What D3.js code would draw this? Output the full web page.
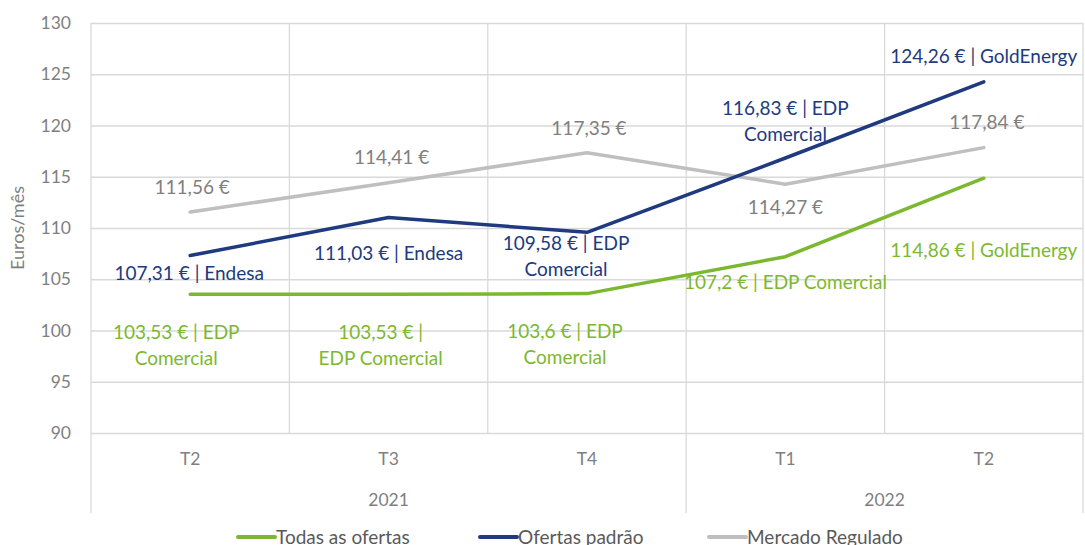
<!DOCTYPE html>
<html>
<head>
<meta charset="utf-8">
<script src="https://cdn.jsdelivr.net/npm/d3@7"></script>
<style>
	body { margin: 0; background: #fff; overflow: hidden; }
	svg { display: block; font-family: Lato, "Open Sans", sans-serif; }
</style>
</head>
<body>
<div id="graphic"></div>
<script>
// categories (quarter, year)
const quarters = ['T2', 'T3', 'T4', 'T1', 'T2'];
const years = ['2021', '2021', '2021', '2022', '2022'];
const yTicks = [90, 95, 100, 105, 110, 115, 120, 125, 130];

// series values (€/mês)
const todasOfertas = [103.53, 103.53, 103.6, 107.2, 114.86];
const ofertasPadrao = [107.31, 111.03, 109.58, 116.83, 124.26];
const mercadoRegulado = [111.56, 114.41, 117.35, 114.27, 117.84];

// supplier names shown in the labels
const todasFornecedor = ['EDP Comercial', 'EDP Comercial', 'EDP Comercial', 'EDP Comercial', 'GoldEnergy'];
const padraoFornecedor = ['Endesa', 'Endesa', 'EDP Comercial', 'EDP Comercial', 'GoldEnergy'];

const seriesNames = ['Todas as ofertas', 'Ofertas padrão', 'Mercado Regulado'];

// label placement (pixel offsets from the point, words on first line; 0 = no wrap)
const layout = {
	todas: [
		{ dx: -14, dy: 51, split: 4 }, { dx: -8, dy: 51, split: 3 }, { dx: -22, dy: 51, split: 4 },
		{ dx: 0, dy: 26, split: 0 }, { dx: 0, dy: 72, split: 0 }
	],
	padrao: [
		{ dx: -1, dy: 18, split: 0 }, { dx: 0, dy: 36, split: 0 }, { dx: -21, dy: 24, split: 4 },
		{ dx: 0, dy: -37, split: 4 }, { dx: 0, dy: -25, split: 0 }
	],
	regulado: [
		{ dx: 2, dy: -25, split: 0 }, { dx: 3, dy: -25, split: 0 }, { dx: 2, dy: -24, split: 0 },
		{ dx: 0, dy: 23, split: 0 }, { dx: 3, dy: -25, split: 0 }
	]
};

const colours = { todas: '#7CB82F', padrao: '#203A80', regulado: '#BFBFBF' };
const textColours = { todas: '#7CB82F', padrao: '#203A80', regulado: '#7F7F7F' };

const width = 1085, height = 545;
const margin = { top: 23, right: 2, bottom: 112, left: 91 };
const chartWidth = width - margin.left - margin.right;
const chartHeight = height - margin.top - margin.bottom;

const fmt = v => String(v).replace('.', ',');

const svg = d3.select('#graphic').append('svg')
	.attr('width', width)
	.attr('height', height);

const g = svg.append('g').attr('transform', `translate(${margin.left},${margin.top})`);

const x = d3.scaleBand()
	.domain(d3.range(quarters.length))
	.range([0, chartWidth])
	.paddingInner(0).paddingOuter(0);

const y = d3.scaleLinear()
	.domain([90, 130])
	.range([chartHeight, 0]);

const cx = i => x(i) + x.bandwidth() / 2;

// horizontal grid
g.append('g')
	.attr('class', 'grid')
	.call(d3.axisLeft(y).tickValues(yTicks).tickSize(-chartWidth).tickFormat(''))
	.call(s => s.select('.domain').remove())
	.selectAll('line').attr('stroke', '#D9D9D9').attr('stroke-width', 1.3);

// vertical grid on category boundaries
g.append('g')
	.selectAll('line')
	.data(d3.range(quarters.length + 1))
	.join('line')
	.attr('x1', i => i < quarters.length ? x(i) : chartWidth)
	.attr('x2', i => i < quarters.length ? x(i) : chartWidth)
	.attr('y1', 0)
	.attr('y2', chartHeight)
	.attr('stroke', '#D9D9D9')
	.attr('stroke-width', 1.3);

// y tick labels
g.append('g')
	.call(d3.axisLeft(y).tickValues(yTicks).tickSize(0).tickPadding(20))
	.call(s => s.select('.domain').remove())
	.selectAll('text')
	.attr('fill', '#7F7F7F')
	.style('font-size', '17.5px')
	.style('font-family', 'Lato, sans-serif');

// x axis: quarters
g.append('g')
	.attr('transform', `translate(0,${chartHeight})`)
	.selectAll('text')
	.data(quarters)
	.join('text')
	.attr('x', (d, i) => cx(i))
	.attr('y', 26)
	.attr('dy', '0.35em')
	.attr('text-anchor', 'middle')
	.attr('fill', '#7F7F7F')
	.style('font-size', '17.5px')
	.text(d => d);

// x axis: year groups
const yearGroups = Array.from(d3.group(quarters.map((q, i) => ({ i, year: years[i] })), d => d.year));
const axisG = g.append('g').attr('transform', `translate(0,${chartHeight})`);
axisG.selectAll('text.year')
	.data(yearGroups)
	.join('text')
	.attr('class', 'year')
	.attr('x', ([, v]) => (x(v[0].i) + x(v[v.length - 1].i) + x.bandwidth()) / 2)
	.attr('y', 67)
	.attr('dy', '0.35em')
	.attr('text-anchor', 'middle')
	.attr('fill', '#7F7F7F')
	.style('font-size', '17.5px')
	.text(([k]) => k);

const seps = [0, ...yearGroups.map(([, v]) => v[v.length - 1].i + 1)];
axisG.selectAll('line.sep')
	.data(seps)
	.join('line')
	.attr('class', 'sep')
	.attr('x1', i => i < quarters.length ? x(i) : chartWidth)
	.attr('x2', i => i < quarters.length ? x(i) : chartWidth)
	.attr('y1', 0)
	.attr('y2', 80)
	.attr('stroke', '#D9D9D9')
	.attr('stroke-width', 1.3);

// y axis label
svg.append('text')
	.attr('transform', `translate(18,${margin.top + chartHeight / 2}) rotate(-90)`)
	.attr('text-anchor', 'middle')
	.attr('dy', '0.35em')
	.attr('fill', '#7F7F7F')
	.style('font-size', '18px')
	.text('Euros/mês');

// lines
const series = [
	{ key: 'regulado', values: mercadoRegulado, names: null },
	{ key: 'padrao', values: ofertasPadrao, names: padraoFornecedor },
	{ key: 'todas', values: todasOfertas, names: todasFornecedor }
];

const line = d3.line().x((d, i) => cx(i)).y(d => y(d));

series.forEach(s => {
	g.append('path')
		.datum(s.values)
		.attr('fill', 'none')
		.attr('stroke', colours[s.key])
		.attr('stroke-width', 3.5)
		.attr('stroke-linejoin', 'round')
		.attr('stroke-linecap', 'round')
		.attr('d', line);
});

// data labels
series.forEach(s => {
	s.values.forEach((v, i) => {
		const lay = layout[s.key][i];
		const full = fmt(v) + ' €' + (s.names ? ' | ' + s.names[i] : '');
		const words = full.split(' ');
		const lines = lay.split ? [words.slice(0, lay.split).join(' '), words.slice(lay.split).join(' ')] : [full];
		const t = g.append('text')
			.attr('x', cx(i) + lay.dx)
			.attr('y', y(v) + lay.dy)
			.attr('text-anchor', 'middle')
			.attr('fill', textColours[s.key])
			.style('font-size', '19px');
		lines.forEach((l, j) => {
			t.append('tspan')
				.attr('x', cx(i) + lay.dx)
				.attr('dy', j === 0 ? `${0.35 - (lines.length - 1) * 0.68}em` : '1.36em')
				.text(l);
		});
	});
});

// legend
const legendItems = [
	{ name: seriesNames[0], key: 'todas' },
	{ name: seriesNames[1], key: 'padrao' },
	{ name: seriesNames[2], key: 'regulado' }
];
const legendX = [238, 480, 709];
const legend = svg.append('g').attr('transform', `translate(0,537)`);
legendItems.forEach((d, i) => {
	legend.append('line')
		.attr('x1', legendX[i]).attr('x2', legendX[i] + 37)
		.attr('y1', 0).attr('y2', 0)
		.attr('stroke', colours[d.key])
		.attr('stroke-width', 4)
		.attr('stroke-linecap', 'round');
	legend.append('text')
		.attr('x', legendX[i] + 38)
		.attr('dy', '0.35em')
		.attr('fill', '#595959')
		.style('font-size', '19px')
		.text(d.name);
});
</script>
</body>
</html>
